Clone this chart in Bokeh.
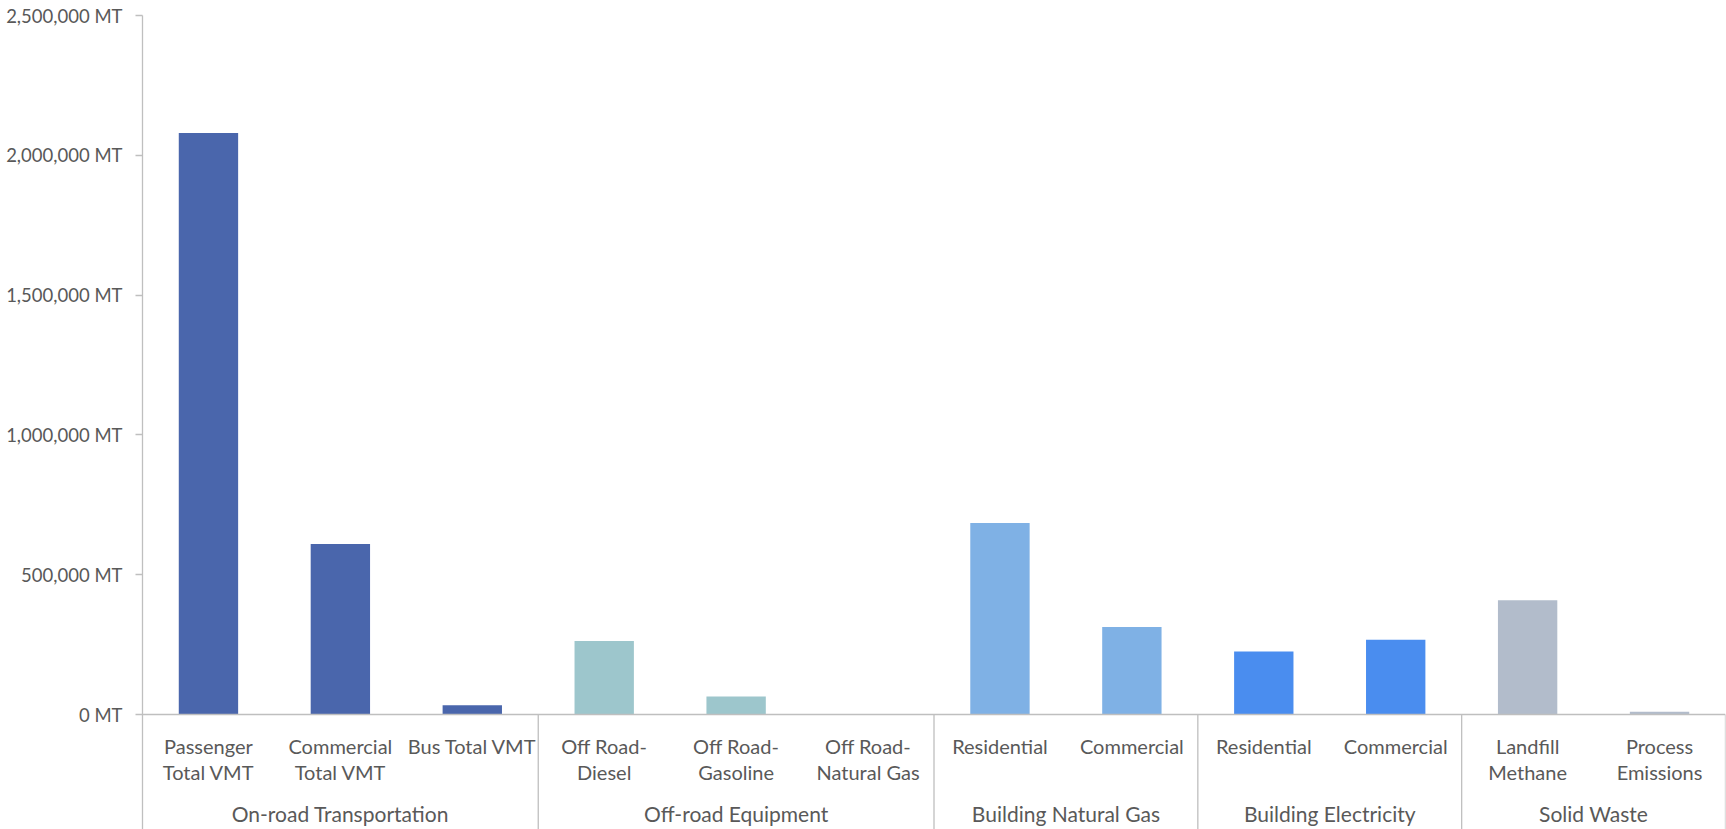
from bokeh.plotting import figure
from bokeh.models import Range1d, FixedTicker, Span, ColumnDataSource
from bokeh.core.properties import value
from bokeh.embed import file_html
from bokeh.resources import INLINE

# ---- data ----
groups = ["On-road Transportation", "Off-road Equipment", "Building Natural Gas",
          "Building Electricity", "Solid Waste"]
group_sizes = [3, 3, 2, 2, 2]
categories = ["Passenger\nTotal VMT", "Commercial\nTotal VMT", "Bus Total VMT",
              "Off Road-\nDiesel", "Off Road-\nGasoline", "Off Road-\nNatural Gas",
              "Residential", "Commercial",
              "Residential", "Commercial",
              "Landfill\nMethane", "Process\nEmissions"]
emissions = [2080000, 610000, 33000,
             263000, 64000, 0,
             685000, 313000,
             225000, 267000,
             409000, 10000]
y_ticks = [0, 500000, 1000000, 1500000, 2000000, 2500000]

# ---- styles ----
group_colors = ["#4A66AC", "#9DC6CC", "#7FB1E5", "#4A8DEF", "#B2BCCB"]
text_color = "#595959"
line_color = "#BFBFBF"
FONT = "Lato"

W, H = 1726, 829
top_px, zero_px, left_px, right_px = 15, 714, 142, 1725
y_max = 2500000
units_per_px = y_max / (zero_px - top_px)
y_min = -(H - zero_px) * units_per_px

p = figure(width=W, height=H, output_backend="svg", toolbar_location=None,
           x_range=Range1d(0, len(categories)), y_range=Range1d(y_min, y_max),
           min_border_left=left_px, min_border_right=W - right_px,
           min_border_top=top_px, min_border_bottom=0,
           outline_line_color=None, background_fill_color="white",
           border_fill_color="white")
p.xaxis.visible = False
p.xgrid.visible = False
p.ygrid.visible = False

ax = p.yaxis[0]
ax.ticker = FixedTicker(ticks=y_ticks)
ax.major_label_overrides = {t: f"{t:,} MT" for t in y_ticks}
ax.axis_line_color = line_color
ax.axis_line_width = 1.3
ax.major_tick_line_color = line_color
ax.major_tick_line_width = 1.3
ax.major_tick_out = 7
ax.major_tick_in = 0
ax.minor_tick_line_color = None
ax.major_label_standoff = 13
ax.major_label_text_font = FONT
ax.major_label_text_font_size = "18.5px"
ax.major_label_text_color = text_color

# bars
bar_colors = []
for g, n in enumerate(group_sizes):
    bar_colors += [group_colors[g]] * n
xs = [i + 0.5 for i in range(len(categories))]
src = ColumnDataSource(dict(x=xs, top=emissions, color=bar_colors))
p.vbar(x="x", top="top", bottom=0, width=0.45, fill_color="color",
       line_color=None, source=src)

# baseline
p.add_layout(Span(location=0, dimension="width", line_color=line_color, line_width=1.3))

# group separators
bounds = []
acc = 0
for n in group_sizes:
    acc += n
    bounds.append(acc)
p.segment(x0=bounds, x1=bounds, y0=[0] * len(bounds), y1=[y_min] * len(bounds),
          line_color=line_color, line_width=1.3)

# category labels
l1, l2 = [], []
for c in categories:
    parts = c.split("\n")
    l1.append(parts[0])
    l2.append(parts[1] if len(parts) > 1 else "")
common = dict(text_font=value(FONT), text_color=text_color,
              text_align="center", text_baseline="middle")
p.text(x=xs, y=[0] * len(xs), text=l1, y_offset=31, text_font_size="20px", **common)
p.text(x=xs, y=[0] * len(xs), text=l2, y_offset=57, text_font_size="20px", **common)

# group labels
starts = [b - n for b, n in zip(bounds, group_sizes)]
gx = [(s + b) / 2 for s, b in zip(starts, bounds)]
p.text(x=gx, y=[0] * len(gx), text=groups, y_offset=99, text_font_size="21px", **common)

open("out.html", "w").write(file_html(p, INLINE))
